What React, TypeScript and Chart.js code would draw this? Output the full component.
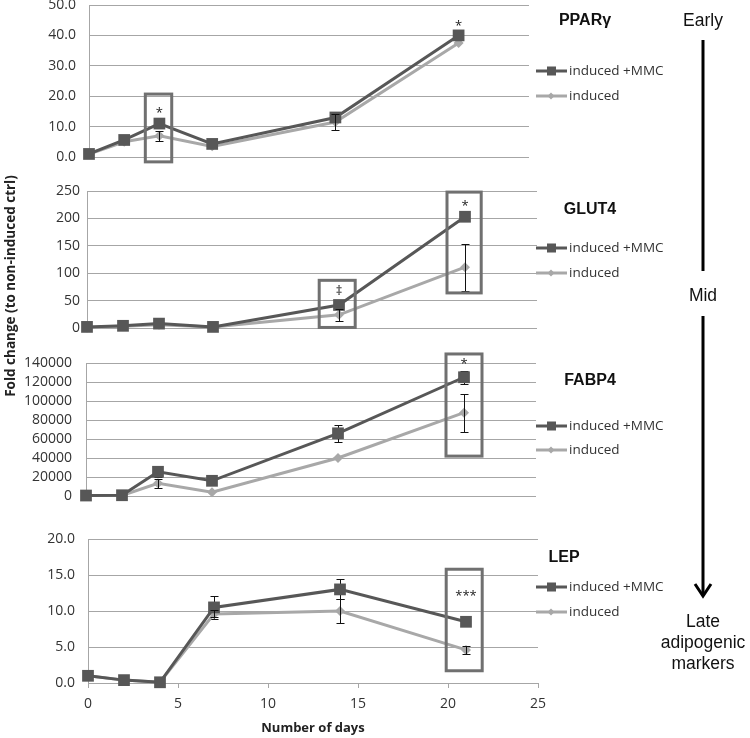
import React, { useEffect, useRef } from "react";
import { Chart, registerables } from "chart.js";
Chart.register(...registerables);

// ---------- data ----------
const DAYS = [0, 2, 4, 7, 14, 21];
const SERIES_LABELS = ["induced +MMC", "induced"];

const PPARG_MMC = [1.0, 5.6, 11.0, 4.3, 13.0, 40.0];
const PPARG_MMC_ERR = [0.3, 0.7, 1.0, 0.7, 1.6, 0.8];
const PPARG_IND = [1.0, 5.0, 7.0, 3.5, 11.5, 37.5];
const PPARG_IND_ERR = [0.2, 0.6, 1.7, 0.5, 2.6, 0.8];

const GLUT4_MMC = [2, 4, 8, 2, 42, 203];
const GLUT4_MMC_ERR = [1, 2, 3, 1, 6, 5];
const GLUT4_IND = [1, 3, 6, 2, 24, 111];
const GLUT4_IND_ERR = [0.5, 1, 2, 1, 11, 43];

const FABP4_MMC = [500, 800, 25500, 16000, 66000, 125000];
const FABP4_MMC_ERR = [200, 300, 5000, 2000, 9000, 7000];
const FABP4_IND = [400, 600, 13400, 4000, 40000, 87700];
const FABP4_IND_ERR = [100, 200, 4500, 1000, 2000, 20000];

const LEP_MMC = [1.0, 0.4, 0.1, 10.5, 13.0, 8.5];
const LEP_MMC_ERR = [0.1, 0.1, 0.05, 1.6, 1.4, 0.3];
const LEP_IND = [1.0, 0.4, 0.1, 9.6, 10.0, 4.6];
const LEP_IND_ERR = [0.1, 0.1, 0.05, 0.5, 1.7, 0.55];

type Box = { x0: number; x1: number; y0: number; y1: number };
type Sig = { x: number; y: number; label: string };

const PPARG_BOXES: Box[] = [{ x0: 3.2, x1: 4.7, y0: -1.6, y1: 20.7 }];
const GLUT4_BOXES: Box[] = [
  { x0: 12.9, x1: 14.9, y0: 1, y1: 87 },
  { x0: 20.0, x1: 21.9, y0: 64, y1: 248 },
];
const FABP4_BOXES: Box[] = [{ x0: 20.0, x1: 22.0, y0: 42000, y1: 149500 }];
const LEP_BOXES: Box[] = [{ x0: 19.9, x1: 21.9, y0: 1.7, y1: 15.8 }];

const PPARG_SIG: Sig[] = [
  { x: 4, y: 14.5, label: "*" },
  { x: 21, y: 43, label: "*" },
];
const GLUT4_SIG: Sig[] = [
  { x: 14, y: 67, label: "‡" },
  { x: 21, y: 222, label: "*" },
];
const FABP4_SIG: Sig[] = [{ x: 21, y: 139000, label: "*" }];
const LEP_SIG: Sig[] = [{ x: 21, y: 12.0, label: "***" }];

// ---------- styles ----------
const MMC_COLOR = "#575757";
const IND_COLOR = "#a8a8a8";
const GRID_COLOR = "#a6a6a6";
const BOX_COLOR = "#707070";
const TEXT_COLOR = "#333333";
const FONT = "'Open Sans', sans-serif";
const TICK_SIZE = 14;

interface PanelSpec {
  top: number;
  height: number;
  pad: { top: number; bottom: number; right: number };
  xHeight: number;
  yWidth: number;
  tickPad: number;
  yMin: number;
  yMax: number;
  yStep: number;
  decimals: number;
  mmc: number[];
  mmcErr: number[];
  ind: number[];
  indErr: number[];
  boxes: Box[];
  sigs: Sig[];
  legendY: [number, number];
  showX: boolean;
}

function drawErrors(chart: any, vals: number[], errs: number[]) {
  const ctx = chart.ctx as CanvasRenderingContext2D;
  const xs = chart.scales.x;
  const ys = chart.scales.y;
  ctx.save();
  ctx.strokeStyle = "#111";
  ctx.lineWidth = 1;
  DAYS.forEach((d, i) => {
    const px = Math.round(xs.getPixelForValue(d)) + 0.5;
    const t = Math.round(ys.getPixelForValue(vals[i] + errs[i])) + 0.5;
    const b = Math.round(ys.getPixelForValue(vals[i] - errs[i])) + 0.5;
    if (b - t < 6) return;
    ctx.beginPath();
    ctx.moveTo(px, t);
    ctx.lineTo(px, b);
    ctx.moveTo(px - 4, t);
    ctx.lineTo(px + 4, t);
    ctx.moveTo(px - 4, b);
    ctx.lineTo(px + 4, b);
    ctx.stroke();
  });
  ctx.restore();
}

function overlay(spec: PanelSpec) {
  return {
    id: "overlay",
    beforeDatasetsDraw(chart: any) {
      drawErrors(chart, spec.mmc, spec.mmcErr);
    },
    afterDatasetsDraw(chart: any) {
      drawErrors(chart, spec.ind, spec.indErr);
      const ctx = chart.ctx as CanvasRenderingContext2D;
      const xs = chart.scales.x;
      const ys = chart.scales.y;
      ctx.save();
      ctx.strokeStyle = BOX_COLOR;
      ctx.lineWidth = 3;
      for (const bx of spec.boxes) {
        const l = xs.getPixelForValue(bx.x0);
        const r = xs.getPixelForValue(bx.x1);
        const t = ys.getPixelForValue(bx.y1);
        const b = ys.getPixelForValue(bx.y0);
        ctx.strokeRect(l, t, r - l, b - t);
      }
      ctx.fillStyle = "#222";
      ctx.font = `13px ${FONT}`;
      ctx.textAlign = "center";
      ctx.textBaseline = "middle";
      for (const sg of spec.sigs) {
        ctx.fillText(sg.label, xs.getPixelForValue(sg.x), ys.getPixelForValue(sg.y));
      }
      ctx.restore();
    },
    afterDraw(chart: any) {
      const ctx = chart.ctx as CanvasRenderingContext2D;
      ctx.save();
      const items = [
        { color: MMC_COLOR, kind: "rect" },
        { color: IND_COLOR, kind: "diamond" },
      ];
      items.forEach((it, k) => {
        const y = spec.legendY[k] - spec.top;
        ctx.strokeStyle = it.color;
        ctx.fillStyle = it.color;
        ctx.lineWidth = 3;
        ctx.beginPath();
        ctx.moveTo(536, y);
        ctx.lineTo(567, y);
        ctx.stroke();
        if (it.kind === "rect") {
          ctx.fillRect(547, y - 4.5, 9, 9);
        } else {
          ctx.beginPath();
          ctx.moveTo(551, y - 3.5);
          ctx.lineTo(554.5, y);
          ctx.lineTo(551, y + 3.5);
          ctx.lineTo(547.5, y);
          ctx.closePath();
          ctx.fill();
        }
        ctx.fillStyle = TEXT_COLOR;
        ctx.font = `13.5px ${FONT}`;
        ctx.textAlign = "left";
        ctx.textBaseline = "middle";
        ctx.fillText(SERIES_LABELS[k], 569, y);
      });
      ctx.restore();
    },
  };
}

function Panel({ spec }: { spec: PanelSpec }) {
  const ref = useRef<HTMLCanvasElement>(null);
  useEffect(() => {
    if (!ref.current) return;
    const chart = new Chart(ref.current, {
      type: "line",
      data: {
        datasets: [
          {
            label: SERIES_LABELS[0],
            data: DAYS.map((d, i) => ({ x: d, y: spec.mmc[i] })),
            borderColor: MMC_COLOR,
            backgroundColor: MMC_COLOR,
            borderWidth: 3,
            pointStyle: "rect",
            pointRadius: 8.3,
            pointBorderWidth: 0,
            clip: false,
          },
          {
            label: SERIES_LABELS[1],
            data: DAYS.map((d, i) => ({ x: d, y: spec.ind[i] })),
            borderColor: IND_COLOR,
            backgroundColor: IND_COLOR,
            borderWidth: 3,
            pointStyle: "rectRot",
            pointRadius: 5,
            pointBorderWidth: 0,
            clip: false,
          },
        ],
      },
      options: {
        animation: false,
        responsive: false,
        layout: {
          autoPadding: false,
          padding: { left: 0, top: spec.pad.top, bottom: spec.pad.bottom, right: spec.pad.right },
        },
        plugins: { legend: { display: false }, tooltip: { enabled: false } },
        scales: {
          x: {
            type: "linear",
            min: 0,
            max: 25,
            display: spec.showX,
            afterFit: (s: any) => {
              if (spec.showX) s.height = spec.xHeight;
            },
            grid: { drawOnChartArea: false, drawTicks: true, tickLength: 5, color: GRID_COLOR },
            border: { display: true, color: GRID_COLOR, width: 1 },
            ticks: { stepSize: 5, padding: 8, color: TEXT_COLOR, font: { family: FONT, size: TICK_SIZE } },
            title: {
              display: true,
              text: "Number of days",
              color: "#222",
              font: { family: FONT, size: 13, weight: "bold" },
              padding: { top: 2, bottom: 2 },
            },
          },
          y: {
            type: "linear",
            min: spec.yMin,
            max: spec.yMax,
            afterFit: (s: any) => {
              s.width = spec.yWidth;
              s.paddingTop = 0;
              s.paddingBottom = 0;
            },
            grid: { color: GRID_COLOR, drawTicks: false, lineWidth: 1 },
            border: { display: true, color: GRID_COLOR, width: 1 },
            ticks: {
              stepSize: spec.yStep,
              autoSkip: false,
              padding: spec.tickPad,
              color: TEXT_COLOR,
              font: { family: FONT, size: TICK_SIZE },
              callback: (v: any) => Number(v).toFixed(spec.decimals),
            },
          },
        },
      } as any,
      plugins: [overlay(spec)],
    });
    return () => chart.destroy();
  }, []);
  return (
    <canvas
      ref={ref}
      width={750}
      height={spec.height}
      style={{ position: "absolute", left: 0, top: spec.top, width: 750, height: spec.height }}
    />
  );
}

const PANELS: PanelSpec[] = [
  {
    top: -10, height: 185, pad: { top: 15, bottom: 18, right: 221 }, xHeight: 0, yWidth: 89, tickPad: 13,
    yMin: 0, yMax: 50, yStep: 10, decimals: 1,
    mmc: PPARG_MMC, mmcErr: PPARG_MMC_ERR, ind: PPARG_IND, indErr: PPARG_IND_ERR,
    boxes: PPARG_BOXES, sigs: PPARG_SIG, legendY: [71, 96], showX: false,
  },
  {
    top: 175, height: 165, pad: { top: 16, bottom: 12, right: 213 }, xHeight: 0, yWidth: 87, tickPad: 7,
    yMin: 0, yMax: 250, yStep: 50, decimals: 0,
    mmc: GLUT4_MMC, mmcErr: GLUT4_MMC_ERR, ind: GLUT4_IND, indErr: GLUT4_IND_ERR,
    boxes: GLUT4_BOXES, sigs: GLUT4_SIG, legendY: [248, 273], showX: false,
  },
  {
    top: 345, height: 165, pad: { top: 18, bottom: 14, right: 214 }, xHeight: 0, yWidth: 86, tickPad: 14,
    yMin: 0, yMax: 140000, yStep: 20000, decimals: 0,
    mmc: FABP4_MMC, mmcErr: FABP4_MMC_ERR, ind: FABP4_IND, indErr: FABP4_IND_ERR,
    boxes: FABP4_BOXES, sigs: FABP4_SIG, legendY: [426, 450], showX: false,
  },
  {
    top: 520, height: 218, pad: { top: 19, bottom: 0, right: 212 }, xHeight: 55, yWidth: 88, tickPad: 13,
    yMin: 0, yMax: 20, yStep: 5, decimals: 1,
    mmc: LEP_MMC, mmcErr: LEP_MMC_ERR, ind: LEP_IND, indErr: LEP_IND_ERR,
    boxes: LEP_BOXES, sigs: LEP_SIG, legendY: [587, 612], showX: true,
  },
];

const TITLES = [
  { text: "PPARγ", x: 585, y: 20 },
  { text: "GLUT4", x: 590, y: 209 },
  { text: "FABP4", x: 590, y: 380 },
  { text: "LEP", x: 564, y: 557 },
];

export default function App() {
  return (
    <div
      style={{
        position: "absolute",
        left: 0,
        top: 0,
        width: 750,
        height: 738,
        overflow: "hidden",
        background: "#fff",
      }}
    >
      {PANELS.map((s, i) => (
        <Panel key={i} spec={s} />
      ))}
      {TITLES.map((t) => (
        <div
          key={t.text}
          style={{
            position: "absolute",
            left: t.x,
            top: t.y,
            transform: "translate(-50%, -50%)",
            font: "bold 16px 'Liberation Sans', Arial, sans-serif",
            color: "#111",
            whiteSpace: "nowrap",
          }}
        >
          {t.text}
        </div>
      ))}
      <div
        style={{
          position: "absolute",
          left: 10,
          top: 286,
          transform: "translate(-50%, -50%) rotate(-90deg)",
          font: `bold 13.5px ${FONT}`,
          color: "#222",
          whiteSpace: "nowrap",
        }}
      >
        Fold change (to non-induced ctrl)
      </div>
      <svg width={750} height={738} style={{ position: "absolute", left: 0, top: 0 }}>
        <line x1={703} y1={40} x2={703} y2={271} stroke="#000" strokeWidth={3} />
        <line x1={703} y1={316} x2={703} y2={596} stroke="#000" strokeWidth={3} />
        <polyline points="695,584 703,596 711,584" fill="none" stroke="#000" strokeWidth={3} />
      </svg>
      {[
        { text: "Early", y: 20 },
        { text: "Mid", y: 295 },
      ].map((t) => (
        <div
          key={t.text}
          style={{
            position: "absolute",
            left: 703,
            top: t.y,
            transform: "translate(-50%, -50%)",
            font: "17.5px 'Liberation Sans', Arial, sans-serif",
            color: "#111",
            whiteSpace: "nowrap",
          }}
        >
          {t.text}
        </div>
      ))}
      <div
        style={{
          position: "absolute",
          left: 703,
          top: 642,
          transform: "translate(-50%, -50%)",
          font: "17.5px/21px 'Liberation Sans', Arial, sans-serif",
          color: "#111",
          textAlign: "center",
          whiteSpace: "nowrap",
        }}
      >
        Late
        <br />
        adipogenic
        <br />
        markers
      </div>
    </div>
  );
}
